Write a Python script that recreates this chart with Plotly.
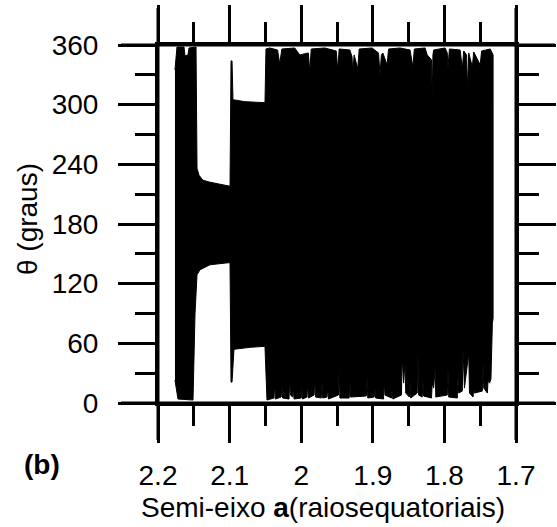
import plotly.graph_objects as go

# ---- data ----
x_tickvals = [2.2, 2.1, 2.0, 1.9, 1.8, 1.7]
x_ticktext = ["2.2", "2.1", "2", "1.9", "1.8", "1.7"]
x_minor = [2.15, 2.05, 1.95, 1.85, 1.75]
y_tickvals = [0, 60, 120, 180, 240, 300, 360]
y_minor = [30, 90, 150, 210, 270, 330]

# upper envelope of theta(a)
upper_a = [2.1763, 2.1735, 2.1637, 2.1623, 2.1581, 2.1567, 2.1469, 2.1455, 2.1427, 2.1372,
           2.1274, 2.1134, 2.1008, 2.0994, 2.0980, 2.0966, 2.0953, 2.0785, 2.0506, 2.0492,
           2.044, 2.033, 2.030, 2.027, 2.009, 2.002, 1.990, 1.988, 1.986, 1.967,
           1.951, 1.949, 1.947, 1.932, 1.929, 1.928, 1.926, 1.921, 1.919, 1.901,
           1.892, 1.890, 1.888, 1.886, 1.880, 1.878, 1.862, 1.848, 1.844, 1.842,
           1.827, 1.824, 1.818, 1.817, 1.816, 1.815, 1.799, 1.796, 1.795, 1.793,
           1.778, 1.775, 1.773, 1.769, 1.768, 1.767, 1.766, 1.761, 1.759, 1.750,
           1.748, 1.736, 1.732]
upper_theta = [335, 358, 358, 349, 350, 357, 358, 236, 229, 224,
               222, 220, 218, 218, 344, 344, 305, 303, 302, 356,
               357, 355, 341, 356, 357, 350, 352, 333, 356, 357,
               354, 335, 356, 355, 348, 332, 350, 336, 356, 357,
               352, 330, 350, 352, 340, 356, 357, 355, 338, 356,
               357, 350, 345, 308, 350, 355, 357, 352, 337, 356,
               355, 336, 354, 350, 315, 350, 352, 338, 353, 340,
               354, 356, 350]

# lower envelope of theta(a)
lower_a = [2.1763, 2.1721, 2.1511, 2.1483, 2.1455, 2.1413, 2.1274, 2.1022, 2.0994, 2.0980,
           2.0966, 2.0939, 2.0715, 2.0506, 2.0478,
           2.038, 2.037, 2.036,
           2.028, 2.027, 2.026,
           2.017, 2.016, 2.015,
           2.012, 2.011, 2.010,
           2.000, 1.999, 1.998,
           1.992, 1.991, 1.990,
           1.982, 1.981, 1.980,
           1.972, 1.971, 1.970,
           1.964, 1.963, 1.962,
           1.948, 1.947, 1.946,
           1.933, 1.932, 1.931,
           1.909, 1.908, 1.907,
           1.898, 1.897, 1.896,
           1.885, 1.884, 1.883,
           1.874, 1.873, 1.872,
           1.860, 1.859, 1.857, 1.855, 1.854,
           1.849, 1.848, 1.847,
           1.838, 1.837, 1.836,
           1.831, 1.830, 1.829,
           1.818, 1.817, 1.815, 1.813, 1.812,
           1.796, 1.795, 1.794,
           1.782, 1.781, 1.780,
           1.775, 1.774, 1.772, 1.766, 1.765,
           1.760, 1.759, 1.758,
           1.747, 1.746, 1.745,
           1.740, 1.739, 1.737, 1.735, 1.733, 1.732]
lower_theta = [23, 4, 3, 90, 129, 134, 139, 141, 141, 21,
               21, 54, 56, 57, 3,
               5, 21, 4,
               6, 18, 5,
               4, 26, 8,
               6, 16, 4,
               5, 15, 4,
               6, 19, 5,
               8, 25, 6,
               5, 21, 5,
               6, 15, 4,
               8, 35, 5,
               5, 21, 6,
               7, 26, 5,
               6, 15, 5,
               4, 23, 8,
               5, 13, 4,
               8, 48, 20, 40, 10,
               6, 22, 5,
               10, 50, 8,
               6, 23, 7,
               5, 20, 15, 35, 6,
               8, 35, 6,
               5, 27, 10,
               12, 55, 15, 50, 10,
               6, 16, 10,
               12, 40, 15,
               10, 23, 20, 24, 80, 85]

assert len(upper_a) == len(upper_theta)
assert len(lower_a) == len(lower_theta)

FONT = "Liberation Sans, Arial, sans-serif"
FS = 28

poly_x = upper_a + lower_a[::-1]
poly_y = upper_theta + lower_theta[::-1]

fig = go.Figure()
fig.add_trace(go.Scatter(x=poly_x, y=poly_y, mode="lines", fill="toself",
                         fillcolor="black", line=dict(color="black", width=1),
                         showlegend=False, hoverinfo="skip"))

axis_common = dict(showline=True, linewidth=3, linecolor="black", mirror="ticks",
                   ticks="outside", ticklen=37, tickwidth=3, tickcolor="black",
                   showgrid=False, zeroline=False, automargin=False,
                   tickfont=dict(family=FONT, size=FS, color="black"))

fig.update_xaxes(range=[2.2, 1.7], tickmode="array", tickvals=x_tickvals, ticktext=x_ticktext,
                 minor=dict(tickmode="array", tickvals=x_minor, ticks="outside", ticklen=20,
                            tickwidth=3, tickcolor="black", showgrid=False),
                 ticklabelstandoff=8, **axis_common)
fig.update_yaxes(range=[0, 360], tickmode="array", tickvals=y_tickvals,
                 minor=dict(tickmode="array", tickvals=y_minor, ticks="outside", ticklen=20,
                            tickwidth=3, tickcolor="black", showgrid=False),
                 ticklabelstandoff=14, **axis_common)

ext_l = 37 / 358
ext_r = 39 / 358
for yv in (0, 1):
    fig.add_shape(type="line", xref="paper", yref="paper", x0=-ext_l, x1=1 + ext_r,
                  y0=yv, y1=yv, line=dict(color="black", width=3), layer="above")
for xv in (0, 1):
    fig.add_shape(type="line", xref="paper", yref="paper", x0=xv, x1=xv,
                  y0=-ext_l, y1=1 + ext_l, line=dict(color="black", width=3), layer="above")

fig.add_annotation(text="<b>(b)</b>", xref="paper", yref="paper", x=-0.324, y=-0.173,
                   showarrow=False, xanchor="center", yanchor="middle",
                   font=dict(family=FONT, size=FS, color="black"))
fig.add_annotation(text="Semi-eixo <b>a</b>(raiosequatoriais)", xref="paper", yref="paper",
                   x=0.461, y=-0.292, showarrow=False, xanchor="center", yanchor="middle",
                   font=dict(family=FONT, size=FS, color="black"))
fig.add_annotation(text="θ (graus)", xref="paper", yref="paper", x=-0.363, y=0.514,
                   textangle=-90, showarrow=False, xanchor="center", yanchor="middle",
                   font=dict(family=FONT, size=FS, color="black"))

fig.update_layout(width=557, height=527, margin=dict(l=158, r=41, t=45, b=124),
                  plot_bgcolor="white", paper_bgcolor="white", showlegend=False)

fig.write_html("out.html")
